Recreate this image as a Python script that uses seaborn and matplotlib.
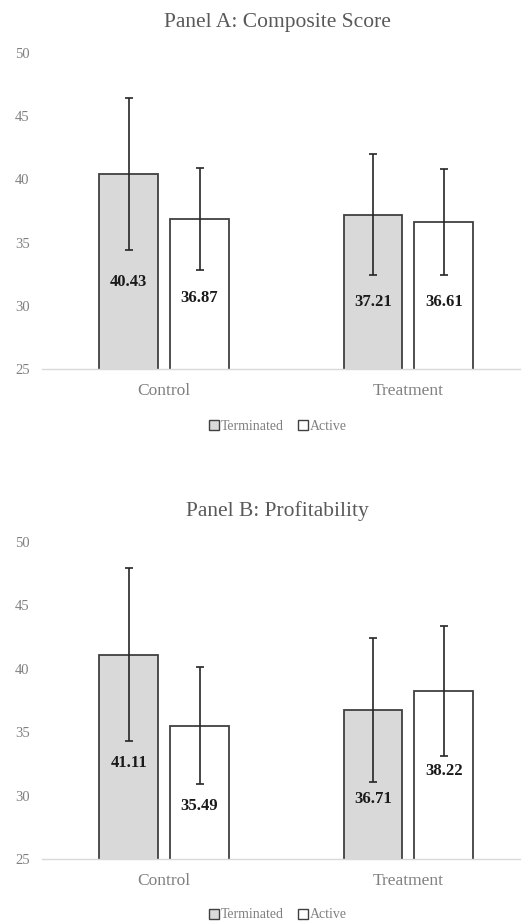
import matplotlib
matplotlib.use("Agg")
import matplotlib.pyplot as plt
from matplotlib.lines import Line2D
import seaborn as sns
import pandas as pd

# ---------------- data ----------------
groups = ["Control", "Treatment"]
statuses = ["Terminated", "Active"]
panel_titles = ["Panel A: Composite Score", "Panel B: Profitability"]

# means, order: Control-Terminated, Control-Active, Treatment-Terminated, Treatment-Active
means_a = [40.43, 36.87, 37.21, 36.61]
errs_a = [6.00, 4.00, 4.77, 4.20]
label_y_a = [31.9, 30.6, 30.3, 30.3]

means_b = [41.11, 35.49, 36.71, 38.22]
errs_b = [6.85, 4.62, 5.67, 5.10]
label_y_b = [32.6, 29.2, 29.7, 31.9]

y_ticks = [25, 30, 35, 40, 45, 50]

# ---------------- style ----------------
sns.set_theme(style="white")
plt.rcParams["font.family"] = ["Liberation Serif", "DejaVu Serif"]

fill_colors = {"Terminated": "#d9d9d9", "Active": "#ffffff"}
edge_color = "#404040"
text_gray = "#595959"
tick_gray = "#808080"

fig = plt.figure(figsize=(5.21, 9.23), dpi=100)
W, H = 521.0, 923.0

panels = [
    (means_a, errs_a, label_y_a, 53.0, 369.0, 22.0, 426.0),
    (means_b, errs_b, label_y_b, 541.7, 859.0, 511.0, 915.0),
]

for idx, (means, errs, label_y, top_px, bot_px, title_px, leg_px) in enumerate(panels):
    left_px, right_px = 42.0, 530.5
    ax = fig.add_axes([left_px / W, 1 - bot_px / H,
                       (right_px - left_px) / W, (bot_px - top_px) / H])
    df = pd.DataFrame({
        "group": [g for g in groups for _ in statuses],
        "status": [s for _ in groups for s in statuses],
        "value": means,
    })
    sns.barplot(data=df, x="group", y="value", hue="status",
                order=groups, hue_order=statuses,
                palette=fill_colors, width=0.58, gap=0.17,
                edgecolor=edge_color, linewidth=1.3,
                errorbar=None, legend=False, ax=ax)

    # patches are ordered by hue then by group
    bars = ax.patches[:4]
    order_idx = []
    for si in range(len(statuses)):
        for gi in range(len(groups)):
            order_idx.append(gi * len(statuses) + si)
    for p, di in zip(bars, order_idx):
        cx = p.get_x() + p.get_width() / 2
        ax.errorbar(cx, means[di], yerr=errs[di], fmt="none",
                    ecolor="#262626", elinewidth=1.2, capsize=3.2, capthick=1.2,
                    zorder=5)
        ax.text(cx, label_y[di], f"{means[di]:.2f}", ha="center", va="center",
                fontsize=12, fontweight="bold", color="#1a1a1a", zorder=6)

    ax.set_ylim(25, 50)
    ax.set_xlim(-0.5, 1.5)
    ax.set_yticks(y_ticks)
    ax.set_yticklabels([str(t) for t in y_ticks])
    ax.set_xlabel("")
    ax.set_ylabel("")
    for side in ["left", "right", "top"]:
        ax.spines[side].set_visible(False)
    ax.spines["bottom"].set_color("#d9d9d9")
    ax.spines["bottom"].set_linewidth(1.0)
    ax.tick_params(axis="y", length=0, labelsize=10.5, labelcolor=tick_gray, pad=9)
    ax.tick_params(axis="x", length=0, labelsize=12.5, labelcolor=tick_gray, pad=10)
    ax.set_facecolor("none")

    fig.text(277 / W, 1 - title_px / H, panel_titles[idx], ha="center", va="center",
             fontsize=15.5, color=text_gray)

    handles = [Line2D([0], [0], marker="s", linestyle="none", markersize=6.5,
                      markerfacecolor=fill_colors[s], markeredgecolor=edge_color,
                      markeredgewidth=1.0) for s in statuses]
    leg = fig.legend(handles, statuses, loc="center", ncol=2,
                     bbox_to_anchor=(278 / W, 1 - leg_px / H),
                     frameon=False, fontsize=10, handlelength=0.7,
                     handletextpad=0.15, columnspacing=1.0)
    for t in leg.get_texts():
        t.set_color(tick_gray)

fig.savefig("out.png", dpi=100, facecolor="white")
